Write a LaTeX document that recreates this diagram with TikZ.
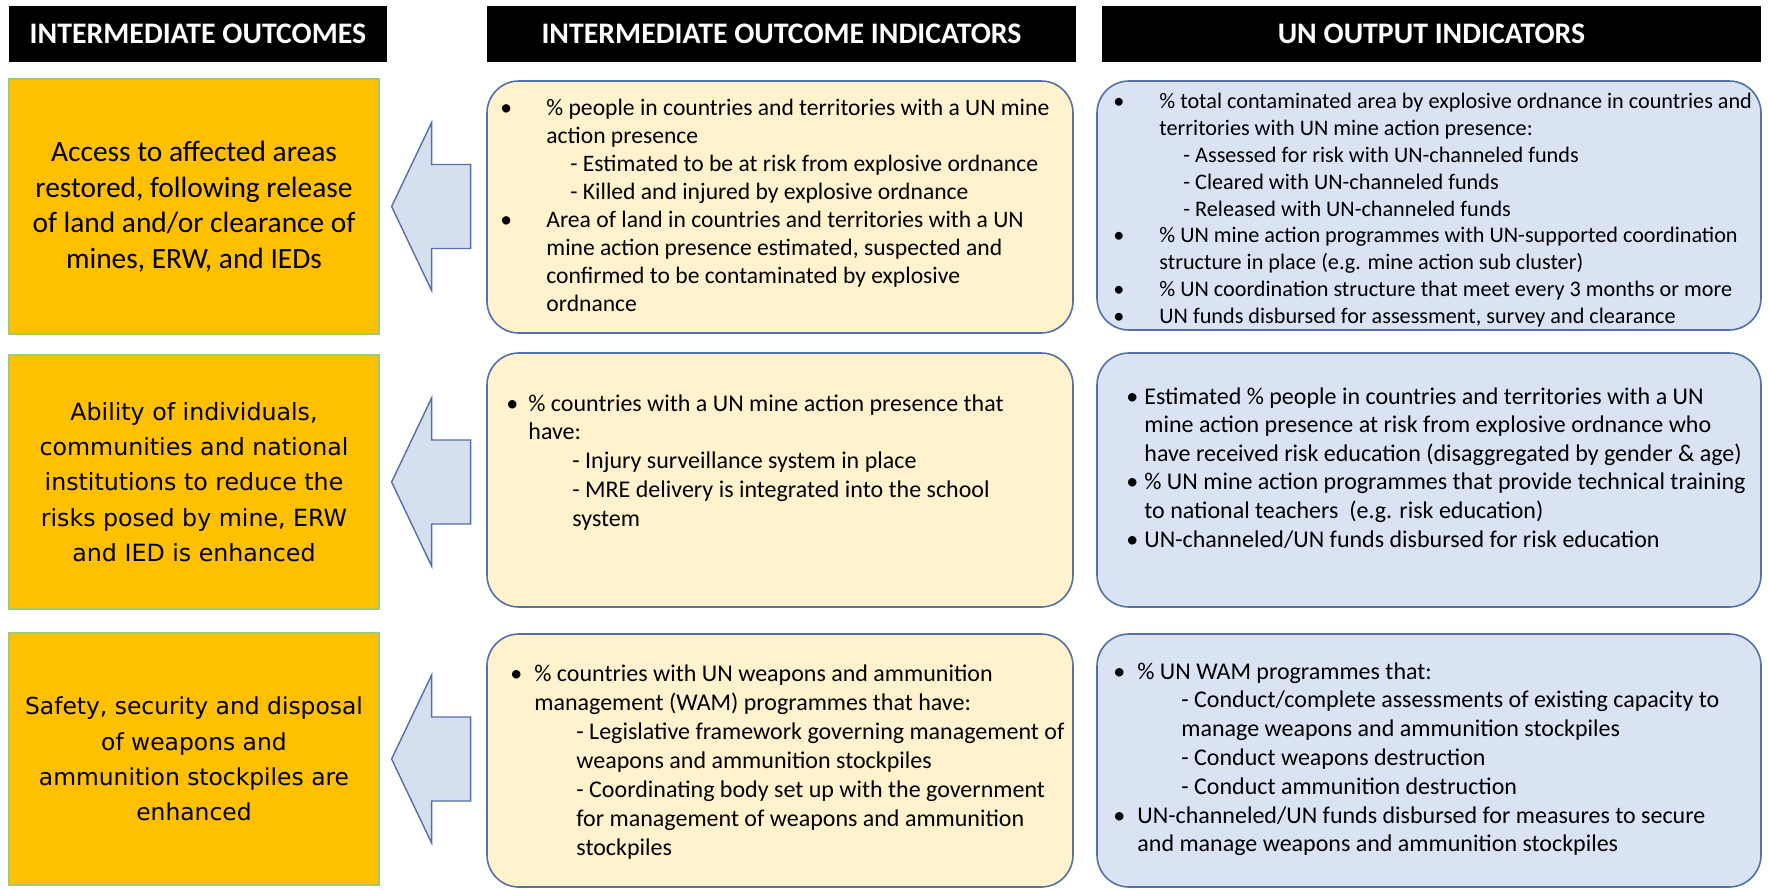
\documentclass[tikz,border=0pt]{standalone}
\usepackage{fontspec}
\setmainfont{Carlito}
\newfontfamily\wideface{DejaVu Sans}
\usetikzlibrary{positioning}

\definecolor{outfill}{RGB}{255,192,0}
\definecolor{outedge}{RGB}{163,200,112}
\definecolor{indfill}{RGB}{255,242,204}
\definecolor{unfill}{RGB}{218,227,243}
\definecolor{boxedge}{RGB}{84,112,168}
\definecolor{arrowfill}{RGB}{214,223,240}

\newcommand{\bul}[1]{\makebox[#1][l]{\textbullet}}

\tikzset{
  header/.style={fill=black, text=white, inner sep=0pt, minimum height=28pt,
    font=\bfseries\fontsize{14.9}{17}\selectfont},
  outcome/.style={fill=outfill, draw=outedge, line width=0.6pt, inner sep=0pt,
    minimum width=185pt, align=center},
  indbox/.style={fill=indfill, draw=boxedge, line width=0.8pt, rounded corners=16pt,
    inner sep=0pt, minimum width=293pt},
  unbox/.style={fill=unfill, draw=boxedge, line width=0.8pt, rounded corners=16pt,
    inner sep=0pt, minimum width=332pt},
  bodytext/.style={anchor=north west, align=left, inner sep=0pt},
  blockarrow/.style={fill=arrowfill, draw=boxedge, line width=0.7pt, line join=miter}
}

\begin{document}
\begin{tikzpicture}[x=0.5pt, y=-0.5pt]
  \useasboundingbox (0,0) rectangle (1768,890);

  % column heads
  \node[header, minimum width=189pt] (headout) at (198,34) {INTERMEDIATE OUTCOMES};
  \node[header, minimum width=294.5pt] (headind) at (781.5,34) {INTERMEDIATE OUTCOME INDICATORS};
  \node[header, minimum width=329.5pt] (headun) at (1431.5,34) {UN OUTPUT INDICATORS};

  % outcomes
  \node[outcome, minimum height=127.5pt, font=\fontsize{14.7}{17.8}\selectfont] (out1) at (194,206.5)
    {Access to affected areas\\restored, following release\\of land and/or clearance of\\mines, ERW, and IEDs};
  \node[outcome, minimum height=127pt, font=\wideface\fontsize{11.85}{17.7}\selectfont] (out2) at (194,482)
    {Ability of individuals,\\communities and national\\institutions to reduce the\\risks posed by mine, ERW\\and IED is enhanced};
  \node[outcome, minimum height=126pt, font=\wideface\fontsize{11.7}{17.7}\selectfont] (out3) at (194,759)
    {Safety, security and disposal\\of weapons and\\ammunition stockpiles are\\enhanced};

  % indicator boxes
  \node[indbox, minimum height=126pt] (ind1) at (780,207) {};
  \node[indbox, minimum height=127pt] (ind2) at (780,480) {};
  \node[indbox, minimum height=126.5pt] (ind3) at (780,760.5) {};
  \node[unbox, minimum height=124.5pt] (un1) at (1429,205.5) {};
  \node[unbox, minimum height=127pt] (un2) at (1429,480) {};
  \node[unbox, minimum height=126.5pt] (un3) at (1429,760.5) {};

  % arrows
  \draw[blockarrow] ([xshift=6pt]out1.east) -- ++(40,-84) -- ++(0,42) -- ++(39,0) -- ++(0,84)
    -- ++(-39,0) -- ++(0,42) -- cycle;
  \draw[blockarrow] ([xshift=6pt]out2.east) -- ++(40,-84) -- ++(0,42) -- ++(39,0) -- ++(0,84)
    -- ++(-39,0) -- ++(0,42) -- cycle;
  \draw[blockarrow] ([xshift=6pt]out3.east) -- ++(40,-84) -- ++(0,42) -- ++(39,0) -- ++(0,84)
    -- ++(-39,0) -- ++(0,42) -- cycle;

  % indicator texts
  \node[bodytext, font=\fontsize{11.8}{14}\selectfont] (ind1t) at (500,99)
    {\bul{23pt}\% people in countries and territories with a UN mine\\
     \hspace*{23pt}action presence\\
     \hspace*{35pt}- Estimated to be at risk from explosive ordnance\\
     \hspace*{35pt}- Killed and injured by explosive ordnance\\
     \bul{23pt}Area of land in countries and territories with a UN\\
     \hspace*{23pt}mine action presence estimated, suspected and\\
     \hspace*{23pt}confirmed to be contaminated by explosive\\
     \hspace*{23pt}ordnance};
  \node[bodytext, font=\fontsize{12}{14.4}\selectfont] (ind2t) at (506,394)
    {\bul{11pt}\% countries with a UN mine action presence that\\
     \hspace*{11pt}have:\\
     \hspace*{33pt}- Injury surveillance system in place\\
     \hspace*{33pt}- MRE delivery is integrated into the school\\
     \hspace*{33pt}system};
  \node[bodytext, font=\fontsize{12}{14.5}\selectfont] (ind3t) at (510,664)
    {\bul{12pt}\% countries with UN weapons and ammunition\\
     \hspace*{12pt}management (WAM) programmes that have:\\
     \hspace*{33pt}- Legislative framework governing management of\\
     \hspace*{33pt}weapons and ammunition stockpiles\\
     \hspace*{33pt}- Coordinating body set up with the government\\
     \hspace*{33pt}for management of weapons and ammunition\\
     \hspace*{33pt}stockpiles};

  % UN output texts
  \node[bodytext, font=\fontsize{11.1}{13.4}\selectfont] (un1t) at (1113,93)
    {\bul{23pt}\% total contaminated area by explosive ordnance in countries and\\
     \hspace*{23pt}territories with UN mine action presence:\\
     \hspace*{35pt}- Assessed for risk with UN-channeled funds\\
     \hspace*{35pt}- Cleared with UN-channeled funds\\
     \hspace*{35pt}- Released with UN-channeled funds\\
     \bul{23pt}\% UN mine action programmes with UN-supported coordination\\
     \hspace*{23pt}structure in place (e.g. mine action sub cluster)\\
     \bul{23pt}\% UN coordination structure that meet every 3 months or more\\
     \bul{23pt}UN funds disbursed for assessment, survey and clearance};
  \node[bodytext, font=\fontsize{12}{14.3}\selectfont] (un2t) at (1126,387)
    {\bul{9pt}Estimated \% people in countries and territories with a UN\\
     \hspace*{9pt}mine action presence at risk from explosive ordnance who\\
     \hspace*{9pt}have received risk education (disaggregated by gender \& age)\\
     \bul{9pt}\% UN mine action programmes that provide technical training\\
     \hspace*{9pt}to national teachers\ \ (e.g. risk education)\\
     \bul{9pt}UN-channeled/UN funds disbursed for risk education};
  \node[bodytext, font=\fontsize{12}{14.4}\selectfont] (un3t) at (1113,662)
    {\bul{12pt}\% UN WAM programmes that:\\
     \hspace*{34pt}- Conduct/complete assessments of existing capacity to\\
     \hspace*{34pt}manage weapons and ammunition stockpiles\\
     \hspace*{34pt}- Conduct weapons destruction\\
     \hspace*{34pt}- Conduct ammunition destruction\\
     \bul{12pt}UN-channeled/UN funds disbursed for measures to secure\\
     \hspace*{12pt}and manage weapons and ammunition stockpiles};
\end{tikzpicture}
\end{document}
